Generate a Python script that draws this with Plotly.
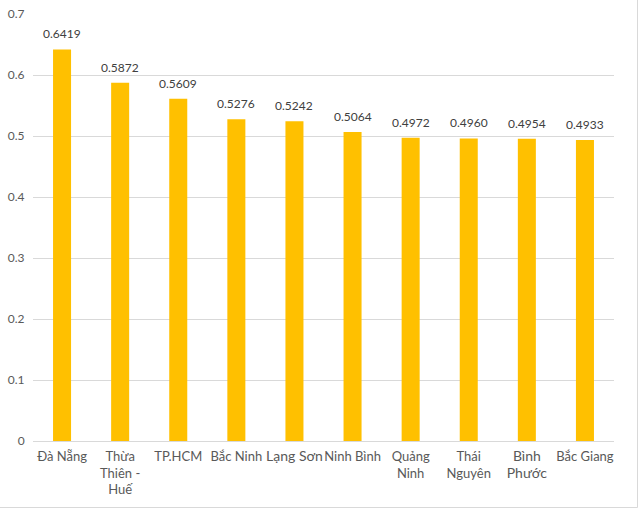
import plotly.graph_objects as go

categories = ["Đà Nẵng", "Thừa<br>Thiên -<br>Huế", "TP.HCM", "Bắc Ninh",
              "<span style='font-size:14px'>Lạng Sơn</span>", "Ninh Bình", "Quảng<br>Ninh", "Thái<br>Nguyên",
              "<span style='font-size:14px'>Bình<br>Phước</span>", "Bắc Giang"]
values = [0.6419, 0.5872, 0.5609, 0.5276, 0.5242, 0.5064, 0.4972, 0.4960, 0.4954, 0.4933]
yticks = [0, 0.1, 0.2, 0.3, 0.4, 0.5, 0.6, 0.7]

W, H = 640, 509
L, R, T, B = 33, 26, 14, 68
pw, ph = W - L - R, H - T - B

xs = list(range(len(categories)))

fig = go.Figure(go.Bar(
    x=xs, y=values,
    marker=dict(color="#FFC000", line=dict(width=0)),
    cliponaxis=False, width=0.31,
))

for xi, v in zip(xs, values):
    fig.add_annotation(x=xi, y=v, text=f"{v:.4f}", showarrow=False,
                       yanchor="bottom", yshift=6,
                       font=dict(size=12, color="#404040", family="Lato"))

def px2x(p):
    return (p - L) / pw

def px2y(p):
    return (H - B - p) / ph

fig.update_layout(
    width=W, height=H, margin=dict(l=L, r=R, t=T, b=B, autoexpand=False),
    paper_bgcolor="white", plot_bgcolor="white",
    showlegend=False,
    font=dict(family="Lato", size=12, color="#595959"),
    xaxis=dict(tickmode="array", tickvals=xs, ticktext=categories,
               range=[-0.5, len(categories) - 0.5], showgrid=False, showline=True,
               linecolor="#D9D9D9", linewidth=1, ticks="", tickangle=0, automargin=False,
               ticklabelstandoff=3,
               tickfont=dict(size=13, color="#595959")),
    yaxis=dict(range=[0, 0.7], tickvals=yticks, ticktext=[f"{v:g}" for v in yticks],
               showgrid=True, gridcolor="#D9D9D9", gridwidth=1, zeroline=False,
               showline=False, ticks="outside", ticklen=5, tickcolor="rgba(0,0,0,0)",
               automargin=False,
               tickfont=dict(size=12, color="#595959")),
    shapes=[
        dict(type="line", xref="paper", yref="paper", x0=px2x(637.5), x1=px2x(637.5),
             y0=px2y(0), y1=px2y(507.5), line=dict(color="#D9D9D9", width=1)),
        dict(type="line", xref="paper", yref="paper", x0=px2x(0), x1=px2x(637.5),
             y0=px2y(507.5), y1=px2y(507.5), line=dict(color="#D9D9D9", width=1)),
    ],
)

fig.write_html("out.html")
